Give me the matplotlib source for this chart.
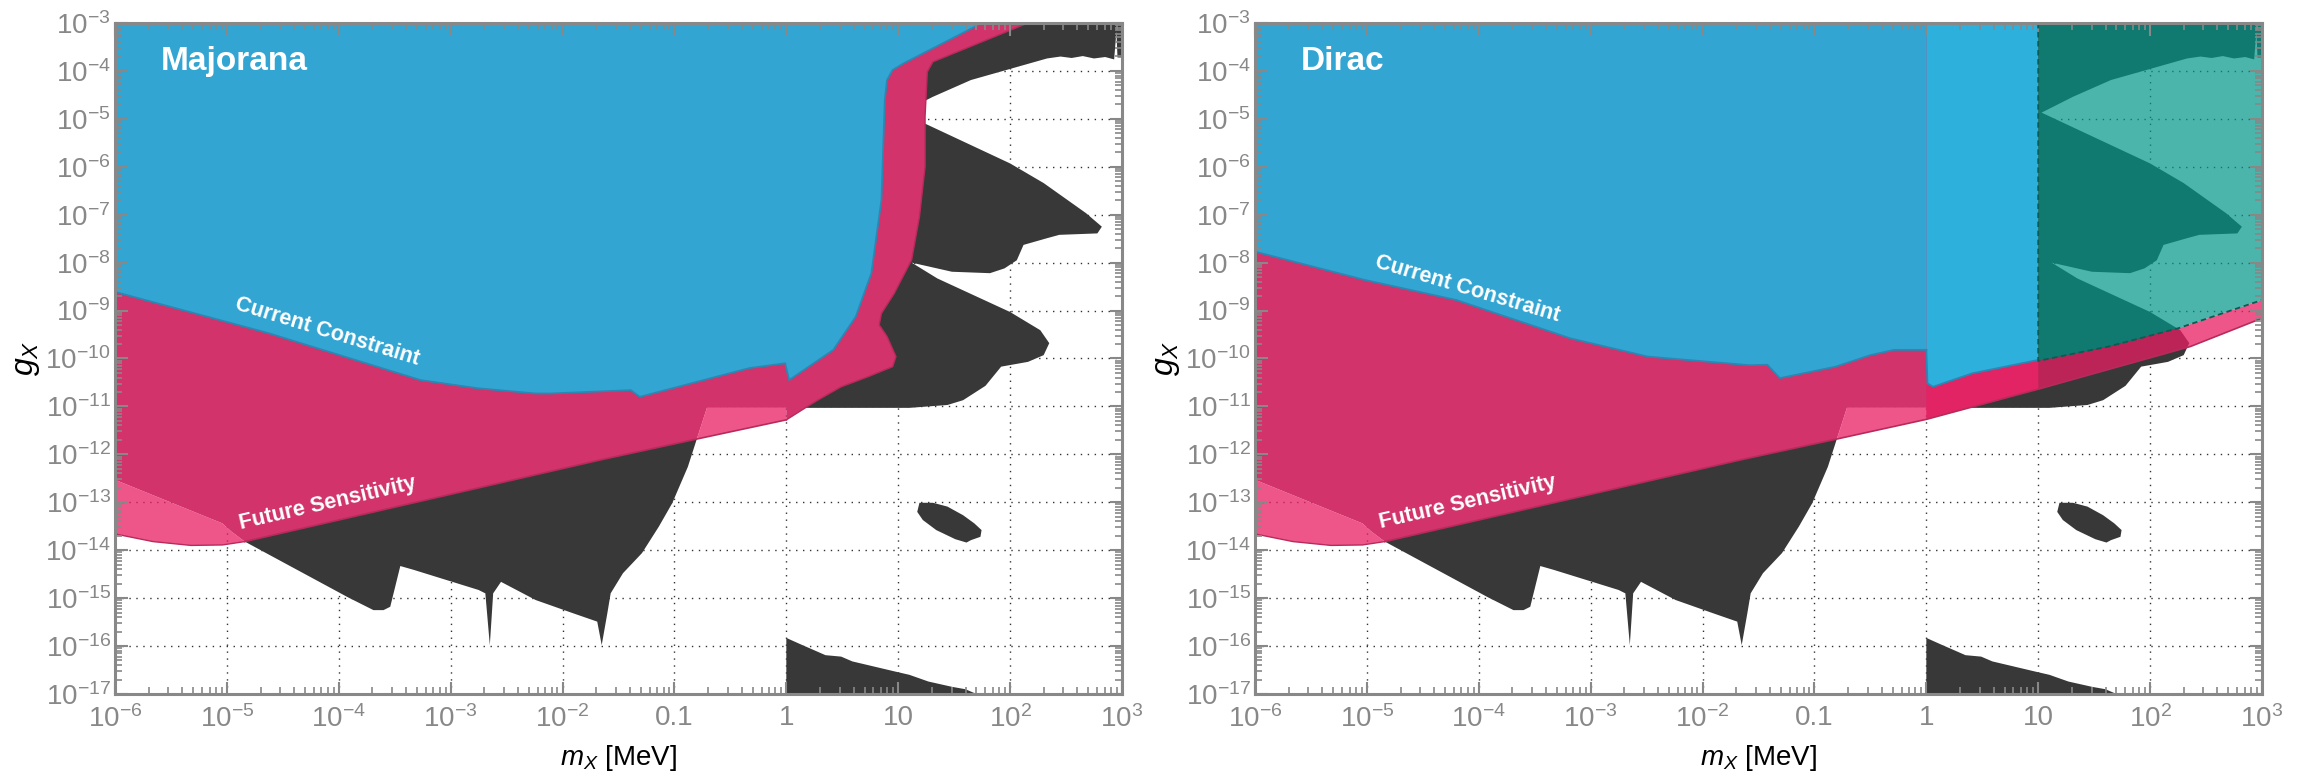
import numpy as np
import matplotlib.pyplot as plt
from matplotlib.ticker import LogLocator, FixedLocator, FuncFormatter, NullFormatter

plt.rcParams['font.family'] = ['Liberation Sans', 'DejaVu Sans']
plt.rcParams['mathtext.fontset'] = 'custom'
plt.rcParams['mathtext.rm'] = 'Liberation Sans'
plt.rcParams['mathtext.it'] = 'Liberation Sans:italic'
plt.rcParams['mathtext.bf'] = 'Liberation Sans:bold'

# all region outlines below are log10(m_X / MeV) and log10(g_X)

# black region (same in both panels)
black_main_lx = [-4.84, -3.92, -3.69, -3.60, -3.54, -3.45, -3.33, -2.75, -2.69, -2.65, -2.62, -2.55,
                 -2.24, -1.90, -1.69, -1.65, -1.60, -1.57, -1.46, -1.29, -1.14, -1.02, -0.88, -0.80,
                 -0.90, -0.90, 0.50, 0.12, 1.10, 1.44, 1.58, 1.78, 1.92, 2.16, 2.30, 2.35, 2.27, 2.00,
                 1.35, 1.12, 1.48, 1.82, 1.95, 2.06, 2.12, 2.33, 2.44, 2.78, 2.82, 2.68, 2.30, 2.00,
                 1.03, 1.31, 1.65, 2.33, 2.45, 2.55, 2.65, 2.75, 2.85, 2.93, 2.95, 2.96, 3.00, 3.00, 0.90]
black_main_lg = [-13.82, -14.98, -15.25, -15.25, -15.18, -14.33, -14.41, -14.83, -14.90, -15.98, -14.90, -14.66,
                 -15.04, -15.32, -15.49, -15.98, -15.32, -14.90, -14.48, -14.06, -13.51, -13.02, -12.26, -11.68,
                 -11.50, -10.50, -10.50, -11.03, -11.03, -10.97, -10.87, -10.57, -10.17, -10.07, -9.93, -9.68, -9.41, -9.03,
                 -8.33, -8.00, -8.19, -8.22, -8.12, -7.95, -7.63, -7.49, -7.42, -7.39, -7.25, -6.97, -6.34, -5.93,
                 -4.87, -4.54, -4.19, -3.74, -3.70, -3.73, -3.69, -3.74, -3.71, -3.76, -3.18, -3.72, -3.72, -3.00, -3.00]

black_blob_lx = [1.19, 1.31, 1.44, 1.58, 1.68, 1.745, 1.735, 1.65, 1.61, 1.51, 1.34, 1.22, 1.17]
black_blob_lg = [-13.01, -13.01, -13.09, -13.27, -13.44, -13.58, -13.72, -13.79, -13.84, -13.77, -13.58, -13.37, -13.20]

black_low_lx = [0.0, 0.0, 0.144, 0.35, 0.49, 0.59, 0.97, 1.10, 1.27, 1.48, 1.60, 1.70]
black_low_lg = [-17.0, -15.83, -15.98, -16.19, -16.22, -16.32, -16.53, -16.60, -16.74, -16.85, -16.90, -17.0]

# light pink lobe at low mass (both panels)
lpink_left_lx = [-6.0, -5.04, -4.96, -4.84, -5.04, -5.32, -5.66, -6.0]
lpink_left_lg = [-12.53, -13.44, -13.61, -13.82, -13.89, -13.90, -13.82, -13.66]

# Majorana
blue_maj_lx = [-6.0, 1.75, 1.05, 0.95, 0.90, 0.88, 0.85, 0.76, 0.62, 0.42, 0.025, -0.01, -0.33,
               -1.31, -1.39, -2.11, -2.24, -2.76, -3.27, -3.95, -4.63, -6.0]
blue_maj_lg = [-3.0, -3.0, -3.84, -3.98, -4.19, -4.61, -6.69, -8.22, -9.13, -9.82, -10.45, -10.10, -10.20,
               -10.80, -10.66, -10.73, -10.73, -10.62, -10.45, -9.96, -9.47, -8.61]

pink_maj_lx = [-6.0, 2.16, 1.31, 1.26, 1.24, 1.24, 1.19, 1.12, 0.965, 0.85, 0.83, 0.90, 0.98, 0.95,
               0.73, 0.49, 0.28, 0.21, 0.0, 0.0, -0.71, -0.80, -1.67, -4.84, -4.96, -5.04, -6.0]
pink_maj_lg = [-3.0, -3.0, -3.81, -4.02, -4.95, -6.0, -7.04, -7.94, -8.64, -9.06, -9.30, -9.54, -9.96, -10.17,
               -10.38, -10.59, -10.87, -10.97, -11.28, -11.03, -11.03, -11.68, -12.12, -13.82, -13.61, -13.44, -12.53]

lpink_maj_lx = [-0.80, -0.71, 0.0, 0.0]
lpink_maj_lg = [-11.68, -11.03, -11.03, -11.28]

# Dirac
blue_dir_lx = [-6.0, 0.0, 0.0, -0.29, -0.50, -0.81, -1.31, -1.42, -1.58, -2.49, -3.18, -4.20, -5.02, -6.0]
blue_dir_lg = [-3.0, -3.0, -9.82, -9.82, -9.93, -10.17, -10.41, -10.13, -10.14, -9.96, -9.58, -8.78, -8.36, -7.77]

blue2_dir_lx = [0.0, 1.0, 1.0, 0.41, 0.06, 0.01, 0.0]
blue2_dir_lg = [-3.0, -3.0, -10.03, -10.31, -10.59, -10.52, -9.82]

pink_dir_lx = [-6.0, 1.0, 1.0, 0.0, 0.0, -0.71, -0.80, -1.67, -4.84, -4.96, -5.04, -6.0]
pink_dir_lg = [-3.0, -3.0, -10.64, -11.27, -11.03, -11.03, -11.68, -12.12, -13.82, -13.61, -13.44, -12.53]

lpink_dir_lx = [-0.80, -0.71, 0.0, 0.0, 0.99, 1.0, 1.63, 2.25, 3.0, 3.0, 2.36, 1.0, 0.0]
lpink_dir_lg = [-11.68, -11.03, -11.03, -9.90, -9.95, -10.05, -9.75, -9.37, -8.78, -9.16, -9.75, -10.64, -11.27]

teal_dir_lx = [1.0, 3.0, 3.0, 2.25, 1.63, 1.0]
teal_dir_lg = [-3.0, -3.0, -8.78, -9.37, -9.75, -10.05]

mass_decades = list(range(-6, 4))
coupling_decades = list(range(-17, -2))
xtick_text = {-1: '0.1', 0: '1', 1: '10'}

c_black = '#383838'
c_pink = '#d1336a'
c_lpink = '#e91e63'
c_blue = '#33a5d3'
c_blue2 = '#2db0dc'
c_teal = '#009688'
c_axis = '#888888'


def lin(a):
    return 10.0 ** np.asarray(a, dtype=float)


def fmt_mass(v, pos):
    e = int(round(np.log10(v)))
    if e in xtick_text:
        return xtick_text[e]
    return r'$10^{%d}$' % e


def fmt_pow(v, pos):
    e = int(round(np.log10(v)))
    return r'$10^{%d}$' % e


def setup(ax):
    ax.set_xscale('log')
    ax.set_yscale('log')
    ax.set_xlim(1e-6, 1e3)
    ax.set_ylim(1e-17, 1e-3)
    ax.xaxis.set_major_locator(FixedLocator(lin(mass_decades)))
    ax.yaxis.set_major_locator(FixedLocator(lin(coupling_decades)))
    for axis in (ax.xaxis, ax.yaxis):
        axis.set_minor_locator(LogLocator(base=10, subs=np.arange(2, 10), numticks=300))
        axis.set_minor_formatter(NullFormatter())
    ax.xaxis.set_major_formatter(FuncFormatter(fmt_mass))
    ax.yaxis.set_major_formatter(FuncFormatter(fmt_pow))
    ax.tick_params(which='both', direction='in', top=True, right=True, color=c_axis,
                   labelcolor=c_axis, labelsize=20)
    ax.tick_params(which='major', length=9, width=1.5)
    ax.tick_params(which='minor', length=5, width=1.2)
    ax.tick_params(axis='x', pad=8)
    ax.tick_params(axis='y', pad=3)
    for s in ax.spines.values():
        s.set_color(c_axis)
        s.set_linewidth(2.2)
        s.set_zorder(10)
    # dotted grid at every decade, kept under the filled regions
    for e in mass_decades[1:-1]:
        ax.axvline(10.0 ** e, ls=(0, (1, 4)), color='#333333', lw=1.0, zorder=1.0)
    for e in coupling_decades[1:-1]:
        ax.axhline(10.0 ** e, ls=(0, (1, 4)), color='#333333', lw=1.0, zorder=1.0)
    ax.set_xlabel(r'$m_X$ [MeV]', fontsize=20, labelpad=7)
    ax.set_ylabel(r'$g_X$', fontsize=23, labelpad=2)


def draw_black(ax):
    ax.fill(lin(black_main_lx), lin(black_main_lg), color=c_black, lw=0, zorder=1.1)
    ax.fill(lin(black_blob_lx), lin(black_blob_lg), color=c_black, lw=0, zorder=1.1)
    ax.fill(lin(black_low_lx), lin(black_low_lg), color=c_black, lw=0, zorder=1.1)


fig = plt.figure(figsize=(23.1, 7.78), dpi=100)
ax1 = fig.add_axes([0.04978, 0.10797, 0.43593, 0.86247])
ax2 = fig.add_axes([0.54329, 0.10797, 0.43593, 0.86247])

# ---- Majorana ----
ax = ax1
setup(ax)
draw_black(ax)
ax.fill(lin(pink_maj_lx), lin(pink_maj_lg), color=c_pink, lw=0, zorder=1.2)
ax.plot(lin(pink_maj_lx[1:19]), lin(pink_maj_lg[1:19]), color='#b92a5c', lw=1.0, zorder=1.25)
ax.plot(lin([-4.84, -1.67, -0.80, 0.0]), lin([-13.82, -12.12, -11.68, -11.28]), color='#b92a5c', lw=1.2, zorder=1.35)
ax.fill(lin(lpink_left_lx), lin(lpink_left_lg), color=c_lpink, alpha=0.75, lw=0, zorder=1.3)
ax.plot(lin(lpink_left_lx[3:]), lin(lpink_left_lg[3:]), color='#b92a5c', lw=1.0, zorder=1.3)
ax.fill(lin(lpink_maj_lx), lin(lpink_maj_lg), color=c_lpink, alpha=0.75, lw=0, zorder=1.3)
ax.fill(lin(blue_maj_lx), lin(blue_maj_lg), color=c_blue, lw=0, zorder=1.4)
ax.plot(lin(blue_maj_lx[1:]), lin(blue_maj_lg[1:]), color='#2a88b3', lw=1.3, zorder=1.45)

ax.text(0.0457, 0.942, 'Majorana', transform=ax.transAxes, color='white', fontsize=24,
        fontweight='bold', ha='left', va='center', zorder=5)
ax.text(10 ** -4.1, 10 ** -9.45, 'Current Constraint', color='white', fontsize=15.5, fontweight='bold',
        rotation=-17, ha='center', va='center', rotation_mode='anchor', zorder=5)
ax.text(10 ** -4.1, 10 ** -13.02, 'Future Sensitivity', color='white', fontsize=15.5, fontweight='bold',
        rotation=13, ha='center', va='center', rotation_mode='anchor', zorder=5)

# ---- Dirac ----
ax = ax2
setup(ax)
draw_black(ax)
ax.fill(lin(pink_dir_lx), lin(pink_dir_lg), color=c_pink, lw=0, zorder=1.2)
ax.plot(lin([-4.84, -1.67, -0.80, 0.0, 1.0, 2.36, 3.0]), lin([-13.82, -12.12, -11.68, -11.27, -10.64, -9.75, -9.16]),
        color='#b92a5c', lw=1.2, zorder=1.35)
ax.fill(lin(lpink_left_lx), lin(lpink_left_lg), color=c_lpink, alpha=0.75, lw=0, zorder=1.3)
ax.plot(lin(lpink_left_lx[3:]), lin(lpink_left_lg[3:]), color='#b92a5c', lw=1.0, zorder=1.3)
ax.fill(lin(lpink_dir_lx), lin(lpink_dir_lg), color=c_lpink, alpha=0.75, lw=0, zorder=1.3)
ax.fill(lin(blue_dir_lx), lin(blue_dir_lg), color=c_blue, lw=0, zorder=1.4)
ax.fill(lin(blue2_dir_lx), lin(blue2_dir_lg), color=c_blue2, lw=0, zorder=1.4)
ax.plot(lin(blue_dir_lx[2:]), lin(blue_dir_lg[2:]), color='#2a88b3', lw=1.3, zorder=1.45)
ax.plot(lin(blue2_dir_lx[2:]), lin(blue2_dir_lg[2:]), color='#2a88b3', lw=1.3, zorder=1.45)
ax.fill(lin(teal_dir_lx), lin(teal_dir_lg), color=c_teal, alpha=0.7, lw=0, zorder=1.5)
ax.plot(lin([teal_dir_lx[0]] + teal_dir_lx[::-1][:-1]), lin([teal_dir_lg[0]] + teal_dir_lg[::-1][:-1]),
        color='#0b5c52', lw=1.3, ls=(0, (3, 2)), zorder=1.55)

ax.text(0.0457, 0.942, 'Dirac', transform=ax.transAxes, color='white', fontsize=24,
        fontweight='bold', ha='left', va='center', zorder=5)
ax.text(10 ** -4.1, 10 ** -8.55, 'Current Constraint', color='white', fontsize=15.5, fontweight='bold',
        rotation=-16.5, ha='center', va='center', rotation_mode='anchor', zorder=5)
ax.text(10 ** -4.1, 10 ** -13.0, 'Future Sensitivity', color='white', fontsize=15.5, fontweight='bold',
        rotation=13, ha='center', va='center', rotation_mode='anchor', zorder=5)

fig.savefig('out.png', dpi=100)
